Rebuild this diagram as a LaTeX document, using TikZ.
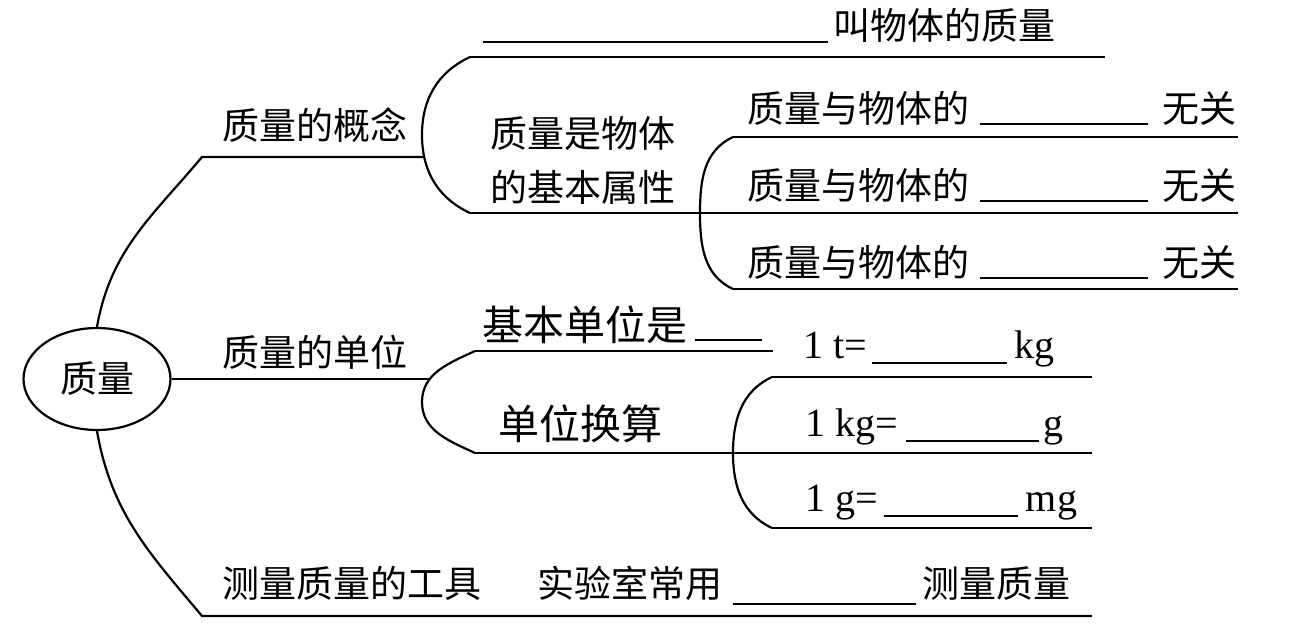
\documentclass[tikz,border=0pt]{standalone}
\usepackage{fontspec}
\setmainfont{Liberation Serif}
\newfontfamily\zhfont{Noto Sans CJK SC}
\usetikzlibrary{shapes.geometric}
% blank to fill in: optional raise, then width
\newcommand\blank[2][-1.5pt]{\rule[#1]{#2}{1.1pt}}
\tikzset{
  root/.style={ellipse, draw, line width=1.1pt, minimum width=73.5pt,
               minimum height=51pt, inner sep=0pt,
               font=\zhfont\fontsize{18.5pt}{22pt}\selectfont},
  topic/.style={anchor=base west, inner sep=0pt,
                font=\zhfont\fontsize{18.5pt}{22pt}\selectfont},
  sub/.style={topic, font=\zhfont\fontsize{20.5pt}{24pt}\selectfont},
  eqn/.style={anchor=base west, inner sep=0pt,
              font=\fontsize{20pt}{24pt}\selectfont},
  branch/.style={line width=1.1pt}
}

\begin{document}
\begin{tikzpicture}[x=0.5pt, y=-0.5pt]
  \useasboundingbox (0,0) rectangle (1301,632);

  \node[root] (mass) at (97,379) {质量};

  % three main topics
  \node[topic] (concept) at (222,139) {质量的概念};
  \node[topic] (unit) at (222,366) {质量的单位};
  \node[topic] (tool) at (222,597) {测量质量的工具};
  \node[topic] (lab) at (537,597)
    {实验室常用\hspace{5.5pt}\blank[-4pt]{91.5pt}\hspace{3pt}测量质量};

  % concept
  \node[topic] (def) at (483,39) {\blank[-2pt]{172.5pt}\hspace{2.5pt}叫物体的质量};
  \node[topic, anchor=center, align=center,
        font=\zhfont\fontsize{18.5pt}{27pt}\selectfont] (prop) at (583,160)
    {质量是物体\\的基本属性};
  \node[topic] (rel1) at (747,122) {质量与物体的\hspace{5.5pt}\blank{84pt}\hspace{7pt}无关};
  \node[topic] (rel2) at (747,199) {质量与物体的\hspace{5.5pt}\blank{84pt}\hspace{7pt}无关};
  \node[topic] (rel3) at (747,276) {质量与物体的\hspace{5.5pt}\blank{84pt}\hspace{7pt}无关};

  % units
  \node[sub] (base) at (482,340) {基本单位是\hspace{4pt}\blank[-0.5pt]{33.5pt}};
  \node[sub] (conv) at (498,439) {单位换算};
  \node[eqn] (tkg) at (803,358) {1 t=\hspace{2.5pt}\blank[-3pt]{67.5pt}\hspace{3.5pt}kg};
  \node[eqn] (kgg) at (805,436) {1 kg=\hspace{4pt}\blank[-3pt]{66.5pt}\hspace{2.5pt}g};
  \node[eqn] (gmg) at (805,511) {1 g=\hspace{3pt}\blank[-3pt]{67pt}\hspace{4pt}mg};

  % branch points
  \coordinate (k1) at (202,157);
  \coordinate (k1e) at (424,157);
  \coordinate (k2e) at (430,379);
  \coordinate (k3) at (202,616);
  \coordinate (k3e) at (1092,616);

  \coordinate (a1) at (470,57);
  \coordinate (a1m) at (422,135);
  \coordinate (a1b) at (470,213);
  \coordinate (a2) at (733,137);
  \coordinate (a2m) at (700,213);
  \coordinate (a2b) at (733,289);
  \coordinate (u1) at (475,351);
  \coordinate (u1m) at (422,402);
  \coordinate (u1b) at (475,453);
  \coordinate (u2) at (772,377);
  \coordinate (u2m) at (733,453);
  \coordinate (u2b) at (772,528);

  \draw[branch] (mass.north) to[out=80,in=-130] (k1) -- (k1e);
  \draw[branch] (mass.east) -- (k2e);
  \draw[branch] (mass.south) to[out=-80,in=130] (k3) -- (k3e);

  \draw[branch] (a1) to[out=-155,in=90] (a1m) to[out=-90,in=155] (a1b);
  \draw[branch] (a1) -- (1105,57);
  \draw[branch] (a1b) -- (1238,213);
  \draw[branch] (a2) to[out=-155,in=90] (a2m) to[out=-90,in=155] (a2b);
  \draw[branch] (a2) -- (1238,137);
  \draw[branch] (a2b) -- (1238,289);

  \draw[branch] (u1) to[out=-155,in=90] (u1m) to[out=-90,in=155] (u1b);
  \draw[branch] (u1) -- (773,351);
  \draw[branch] (u1b) -- (1092,453);
  \draw[branch] (u2) to[out=-155,in=90] (u2m) to[out=-90,in=155] (u2b);
  \draw[branch] (u2) -- (1092,377);
  \draw[branch] (u2b) -- (1092,528);
\end{tikzpicture}
\end{document}
